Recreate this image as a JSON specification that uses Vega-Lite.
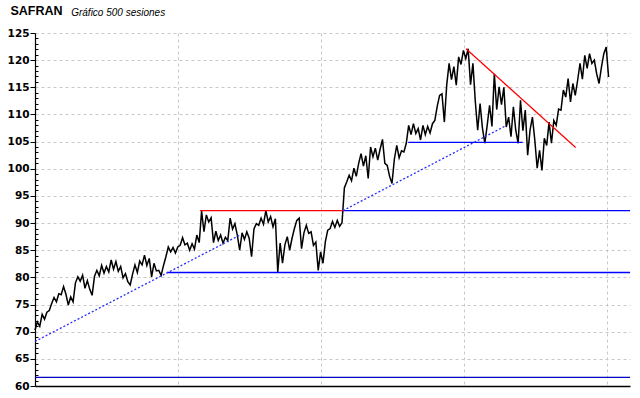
{
  "$schema": "https://vega.github.io/schema/vega-lite/v6.json",
  "autosize": {"type": "none"},
  "padding": {"left": 35, "top": 33, "right": 10, "bottom": 12},
  "width": 595,
  "height": 353,
  "background": "white",
  "config": {"view": {"stroke": null}},
  "datasets": {
    "price": [
      {"s":0,"v":70.3},{"s":2,"v":71.8},{"s":4,"v":71.0},{"s":6,"v":73.2},{"s":8,"v":72.3},{"s":10,"v":73.6},{"s":12,"v":73.9},{"s":14,"v":75.2},{"s":16,"v":76.3},{"s":18,"v":75.5},
      {"s":20,"v":77.0},{"s":22,"v":76.8},{"s":24,"v":78.3},{"s":26,"v":76.9},{"s":28,"v":74.9},{"s":30,"v":76.4},{"s":32,"v":75.5},{"s":34,"v":79.0},{"s":36,"v":80.1},{"s":38,"v":79.3},
      {"s":40,"v":80.4},{"s":42,"v":78.0},{"s":44,"v":79.4},{"s":46,"v":77.8},{"s":48,"v":76.7},{"s":50,"v":80.2},{"s":52,"v":81.3},{"s":54,"v":80.3},{"s":56,"v":82.2},{"s":58,"v":80.8},
      {"s":60,"v":82.0},{"s":62,"v":81.0},{"s":64,"v":83.2},{"s":66,"v":81.5},{"s":68,"v":82.9},{"s":70,"v":81.1},{"s":72,"v":82.0},{"s":74,"v":79.9},{"s":76,"v":80.7},{"s":78,"v":79.2},
      {"s":80,"v":78.6},{"s":82,"v":80.6},{"s":84,"v":82.3},{"s":86,"v":80.9},{"s":88,"v":83.0},{"s":90,"v":82.3},{"s":92,"v":84.1},{"s":94,"v":82.2},{"s":96,"v":83.5},{"s":98,"v":80.1},
      {"s":100,"v":82.6},{"s":102,"v":81.2},{"s":104,"v":81.3},{"s":106,"v":80.4},{"s":108,"v":82.2},{"s":110,"v":83.8},{"s":112,"v":85.6},{"s":114,"v":84.7},{"s":116,"v":85.5},{"s":118,"v":84.5},
      {"s":120,"v":85.6},{"s":122,"v":85.9},{"s":124,"v":87.3},{"s":126,"v":86.0},{"s":128,"v":86.3},{"s":130,"v":85.0},{"s":132,"v":86.2},{"s":134,"v":85.2},{"s":136,"v":87.8},{"s":138,"v":86.4},
      {"s":140,"v":92.2},{"s":142,"v":88.4},{"s":144,"v":91.5},{"s":146,"v":90.2},{"s":148,"v":91.0},{"s":150,"v":86.4},{"s":152,"v":88.5},{"s":154,"v":86.8},{"s":156,"v":87.8},{"s":158,"v":86.3},
      {"s":160,"v":87.4},{"s":162,"v":86.8},{"s":164,"v":90.9},{"s":166,"v":88.9},{"s":168,"v":89.9},{"s":170,"v":87.8},{"s":172,"v":85.0},{"s":174,"v":88.2},{"s":176,"v":87.0},{"s":178,"v":88.4},
      {"s":180,"v":87.2},{"s":182,"v":83.8},{"s":184,"v":88.9},{"s":186,"v":89.9},{"s":188,"v":89.6},{"s":190,"v":90.9},{"s":192,"v":89.8},{"s":194,"v":92.3},{"s":196,"v":90.2},{"s":198,"v":91.2},
      {"s":200,"v":89.3},{"s":202,"v":90.8},{"s":204,"v":81.0},{"s":206,"v":86.3},{"s":208,"v":82.6},{"s":210,"v":86.0},{"s":212,"v":87.5},{"s":214,"v":85.0},{"s":216,"v":87.2},{"s":218,"v":89.0},
      {"s":220,"v":90.5},{"s":222,"v":90.9},{"s":224,"v":85.3},{"s":226,"v":88.2},{"s":228,"v":89.6},{"s":230,"v":88.1},{"s":232,"v":88.4},{"s":234,"v":85.9},{"s":236,"v":86.5},{"s":238,"v":81.3},
      {"s":240,"v":84.7},{"s":242,"v":82.6},{"s":244,"v":86.6},{"s":246,"v":88.7},{"s":248,"v":89.0},{"s":250,"v":90.3},{"s":252,"v":89.2},{"s":254,"v":90.5},{"s":256,"v":89.4},{"s":258,"v":90.1},
      {"s":260,"v":96.5},{"s":262,"v":97.6},{"s":264,"v":98.8},{"s":266,"v":97.8},{"s":268,"v":100.1},{"s":270,"v":98.6},{"s":272,"v":101.0},{"s":274,"v":102.8},{"s":276,"v":100.5},{"s":278,"v":102.4},
      {"s":280,"v":98.2},{"s":282,"v":104.0},{"s":284,"v":102.2},{"s":286,"v":103.8},{"s":288,"v":101.6},{"s":290,"v":103.6},{"s":292,"v":105.4},{"s":294,"v":101.0},{"s":296,"v":100.6},{"s":298,"v":98.6},
      {"s":300,"v":97.3},{"s":302,"v":101.8},{"s":304,"v":104.3},{"s":306,"v":102.0},{"s":308,"v":103.3},{"s":310,"v":103.1},{"s":312,"v":104.7},{"s":314,"v":108.0},{"s":316,"v":106.3},{"s":318,"v":108.3},
      {"s":320,"v":106.5},{"s":322,"v":107.4},{"s":324,"v":105.3},{"s":326,"v":108.0},{"s":328,"v":106.3},{"s":330,"v":107.8},{"s":332,"v":106.6},{"s":334,"v":108.3},{"s":336,"v":108.9},{"s":338,"v":111.5},
      {"s":340,"v":113.5},{"s":342,"v":113.8},{"s":344,"v":108.6},{"s":346,"v":115.5},{"s":348,"v":119.4},{"s":350,"v":116.4},{"s":352,"v":118.8},{"s":354,"v":115.4},{"s":356,"v":120.6},{"s":358,"v":119.2},
      {"s":360,"v":121.8},{"s":362,"v":120.3},{"s":364,"v":122.1},{"s":366,"v":115.5},{"s":368,"v":119.4},{"s":370,"v":112.4},{"s":372,"v":107.1},{"s":374,"v":112.0},{"s":376,"v":107.5},{"s":378,"v":104.7},
      {"s":380,"v":108.0},{"s":382,"v":111.7},{"s":384,"v":107.8},{"s":386,"v":117.5},{"s":388,"v":110.9},{"s":390,"v":115.1},{"s":392,"v":111.8},{"s":394,"v":115.0},{"s":396,"v":107.7},{"s":398,"v":109.5},
      {"s":400,"v":105.9},{"s":402,"v":111.4},{"s":404,"v":107.1},{"s":406,"v":104.7},{"s":408,"v":112.6},{"s":410,"v":107.0},{"s":412,"v":110.8},{"s":414,"v":102.5},{"s":416,"v":107.1},{"s":418,"v":109.5},
      {"s":420,"v":105.3},{"s":422,"v":100.1},{"s":424,"v":103.4},{"s":426,"v":99.7},{"s":428,"v":105.6},{"s":430,"v":104.3},{"s":432,"v":108.6},{"s":434,"v":104.7},{"s":436,"v":108.9},{"s":438,"v":108.0},
      {"s":440,"v":111.0},{"s":442,"v":110.8},{"s":444,"v":114.5},{"s":446,"v":113.2},{"s":448,"v":116.6},{"s":450,"v":112.3},{"s":452,"v":115.7},{"s":454,"v":113.5},{"s":456,"v":116.3},{"s":458,"v":119.4},
      {"s":460,"v":116.5},{"s":462,"v":120.9},{"s":464,"v":118.5},{"s":466,"v":121.2},{"s":468,"v":119.4},{"s":470,"v":120.0},{"s":472,"v":117.5},{"s":474,"v":115.7},{"s":476,"v":118.7},{"s":478,"v":121.2},
      {"s":480,"v":122.4},{"s":482,"v":116.9}
    ],
    "lines": [
      {"k":"rs","x":138.7,"y":92.3,"x2":258.8,"y2":92.3},
      {"k":"bs","x":258.8,"y":92.3,"x2":500,"y2":92.3},
      {"k":"bs","x":110.7,"y":80.9,"x2":500,"y2":80.9},
      {"k":"bs","x":313.7,"y":104.85,"x2":409.8,"y2":104.85},
      {"k":"bk","x":0,"y":61.6,"x2":500,"y2":61.6},
      {"k":"rs","x":362.2,"y":122.1,"x2":454.4,"y2":103.9},
      {"k":"bd","x":0,"y":68.2,"x2":172.3,"y2":87.8},
      {"k":"bd","x":258.8,"y":92.3,"x2":395.5,"y2":107.9}
    ]
  },
  "layer": [
    {
      "data": {"name": "price"},
      "mark": {"type": "line", "color": "black", "strokeWidth": 1.5, "interpolate": "linear"},
      "encoding": {
        "x": {
          "field": "s", "type": "quantitative",
          "scale": {"domain": [0, 500], "nice": false, "zero": false},
          "axis": {
            "values": [120.5, 240.5, 360.7, 481],
            "tickCount": 10,
            "labels": false, "ticks": false,
            "domain": true, "domainColor": "black", "domainWidth": 1.5,
            "grid": true, "gridColor": "#c8c8c8", "gridDash": [3, 3], "gridWidth": 1,
            "title": "SAFRAN", "titleAngle": 0, "titleAlign": "left", "titleBaseline": "alphabetic",
            "titleX": -25, "titleY": -371.3, "titleFont": "Liberation Sans", "titleFontSize": 12.5,
            "titleFontWeight": "bold", "titleColor": "black"
          }
        },
        "y": {
          "field": "v", "type": "quantitative",
          "scale": {"domain": [60, 125], "nice": false, "zero": false},
          "axis": {
            "values": [60,61,62,63,64,65,66,67,68,69,70,71,72,73,74,75,76,77,78,79,80,81,82,83,84,85,86,87,88,89,90,91,92,93,94,95,96,97,98,99,100,101,102,103,104,105,106,107,108,109,110,111,112,113,114,115,116,117,118,119,120,121,122,123,124,125],
            "tickCount": 200,
            "format": "d",
            "labelExpr": "datum.value % 5 === 0 ? datum.label : ''",
            "tickSize": {"condition": {"test": "datum.value % 5 === 0", "value": 5}, "value": -3},
            "gridOpacity": {"condition": {"test": "datum.value % 5 === 0 && datum.value > 60", "value": 1}, "value": 0},
            "grid": true, "gridColor": "#c8c8c8", "gridDash": [3, 3], "gridWidth": 1,
            "domain": true, "domainColor": "black", "domainWidth": 1.2,
            "tickColor": "black", "tickWidth": 1,
            "labelFont": "DejaVu Sans", "labelFontSize": 10.5, "labelFontWeight": "bold",
            "labelColor": "black", "labelPadding": 1, "labelOverlap": false,
            "title": "Gráfico 500 sesiones", "titleAngle": 0, "titleAlign": "left", "titleBaseline": "alphabetic",
            "titleX": 35.7, "titleY": -18, "titleFont": "Liberation Sans", "titleFontSize": 10,
            "titleFontStyle": "italic", "titleFontWeight": "normal", "titleColor": "black"
          }
        }
      }
    },
    {
      "data": {"name": "lines"},
      "mark": {"type": "rule", "strokeWidth": 1.3},
      "encoding": {
        "x": {"field": "x", "type": "quantitative"},
        "y": {"field": "y", "type": "quantitative"},
        "x2": {"field": "x2"},
        "y2": {"field": "y2"},
        "color": {
          "field": "k", "type": "nominal",
          "scale": {"domain": ["rs", "bs", "bk", "bd"], "range": ["#ff0000", "#0000ff", "#0000c0", "#2a2aff"]},
          "legend": null
        },
        "strokeDash": {
          "field": "k", "type": "nominal",
          "scale": {"domain": ["rs", "bs", "bk", "bd"], "range": [[1, 0], [1, 0], [1, 0], [2, 2]]},
          "legend": null
        }
      }
    }
  ]
}
